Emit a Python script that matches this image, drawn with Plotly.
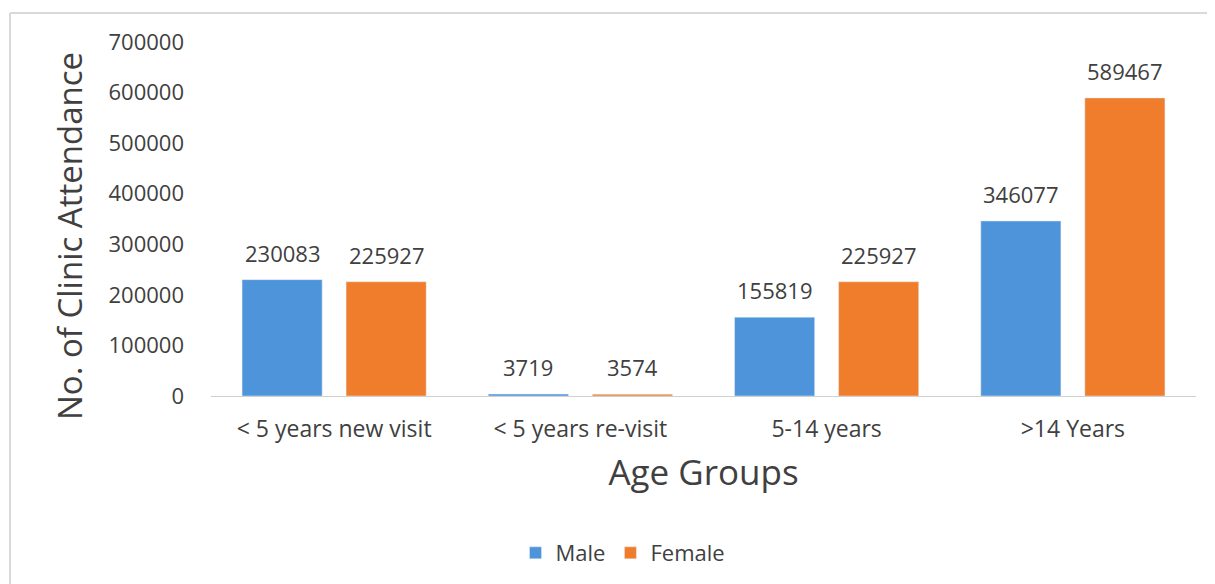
import plotly.graph_objects as go

categories = ["< 5 years new visit", "< 5 years re-visit", "5-14 years", ">14 Years"]
male = [230083, 3719, 155819, 346077]
female = [225927, 3574, 225927, 589467]
y_ticks = [0, 100000, 200000, 300000, 400000, 500000, 600000, 700000]

W, H = 1215, 584
S = 8  # page body offset
L, R, T, B = 211 - S, W - (1196 - S), 42 - S, H - (396 - S)
pw = W - L - R
ph = H - T - B

font = "Open Sans"
txt = "#404040"
colors = {"Male": "#4E94DA", "Female": "#F07D2C"}
BARGAP = 0.155

fig = go.Figure()
for name, vals in (("Male", male), ("Female", female)):
    fig.add_trace(go.Bar(name=name, x=categories, y=vals, marker_color=colors[name],
                         offsetgroup=name))


def px_x(x):
    return (x - S - L) / pw


def px_y(y):
    return (H - B - (y - S)) / ph


annotations = []
# value labels placed above each bar using data coordinates
group_w = 1 - BARGAP
for i, cat in enumerate(categories):
    for j, (name, vals) in enumerate((("Male", male), ("Female", female))):
        annotations.append(dict(
            x=i + (j - 0.5) * group_w / 2, y=vals[i], xref="x", yref="y",
            text=str(vals[i]), showarrow=False, yanchor="bottom", yshift=10,
            font=dict(size=22, color=txt, family=font)))

# y-axis title
annotations.append(dict(
    x=px_x(70), y=px_y(236), xref="paper", yref="paper", xanchor="center", yanchor="middle",
    text="No. of Clinic Attendance", textangle=-90, showarrow=False,
    font=dict(size=33, color=txt, family=font)))

fig.update_layout(
    width=W, height=H,
    margin=dict(l=L, r=R, t=T, b=B, autoexpand=False),
    paper_bgcolor="white", plot_bgcolor="white",
    barmode="group", bargap=BARGAP, bargroupgap=0.23,
    font=dict(family=font, color=txt),
    showlegend=True,
    legend=dict(orientation="h", x=px_x(623), xanchor="center",
                y=px_y(553), yanchor="middle",
                font=dict(size=22, color=txt, family=font)),
    xaxis=dict(showline=True, linecolor="#d0d0d0", linewidth=1, ticks="",
               ticklabelstandoff=12,
               tickfont=dict(size=23, color=txt, family=font),
               title=dict(text="Age Groups", font=dict(size=35, color=txt, family=font), standoff=17)),
    yaxis=dict(range=[0, 700000], tickvals=y_ticks, ticktext=[str(v) for v in y_ticks],
               showgrid=False, zeroline=False, showline=False, ticks="",
               ticklabelstandoff=26,
               tickfont=dict(size=22, color=txt, family=font)),
    annotations=annotations,
    shapes=[
        dict(type="line", xref="paper", yref="paper", x0=px_x(10), x1=px_x(1230), y0=px_y(13), y1=px_y(13),
             line=dict(color="#d9d9d9", width=2)),
        dict(type="line", xref="paper", yref="paper", x0=px_x(10), x1=px_x(10), y0=px_y(13), y1=px_y(600),
             line=dict(color="#d9d9d9", width=2)),
    ],
)

fig.write_html("out.html")
